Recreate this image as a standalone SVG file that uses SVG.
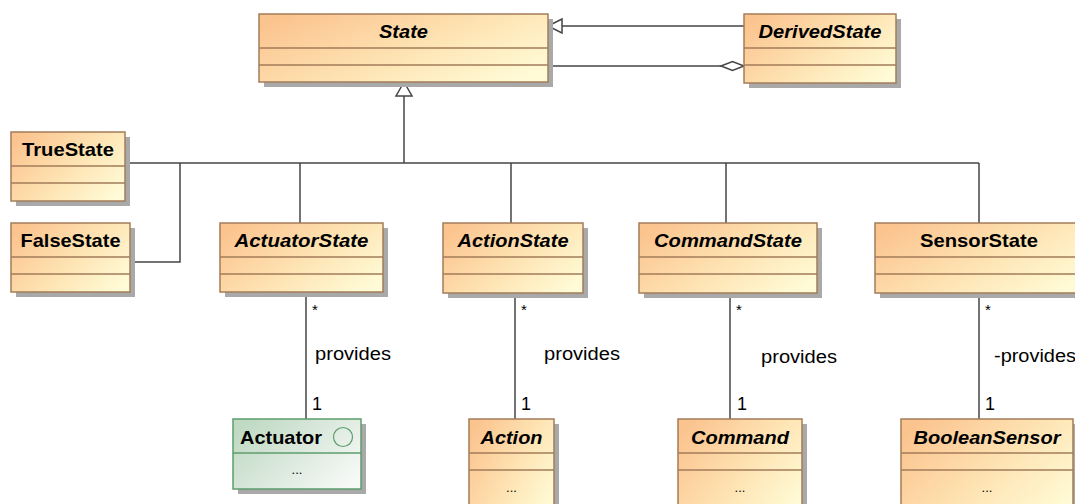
<svg xmlns="http://www.w3.org/2000/svg" width="1075" height="504" viewBox="0 0 1075 504">
<defs>
  <linearGradient id="og" x1="0" y1="0.2" x2="1" y2="0.8">
    <stop offset="0" stop-color="#fbc48f"/>
    <stop offset="0.55" stop-color="#fee4b4"/>
    <stop offset="1" stop-color="#fffbd6"/>
  </linearGradient>
  <linearGradient id="gg" x1="0" y1="0.2" x2="1" y2="0.8">
    <stop offset="0" stop-color="#bfd9c3"/>
    <stop offset="1" stop-color="#f7f9f7"/>
  </linearGradient>
</defs>
<style>
  .sh { fill: #a9a9a9; }
  .box { fill: url(#og); stroke: #a27c59; stroke-width: 1.5; }
  .div { stroke: #a27c59; stroke-width: 1.5; fill: none; }
  .gbox { fill: url(#gg); stroke: #5e9d6c; stroke-width: 1.5; }
  .gdiv { stroke: #5e9d6c; stroke-width: 1.5; fill: none; }
  .nm { font-family: "Liberation Sans", Arial, sans-serif; font-size: 18.5px; font-weight: bold; fill: #000; }
  .it { font-style: italic; }
  .lb { font-family: "Liberation Sans", Arial, sans-serif; font-size: 18px; fill: #000; }
  .mu { font-family: "Liberation Sans", Arial, sans-serif; font-size: 15px; fill: #000; }
  .dots { font-family: "Liberation Sans", Arial, sans-serif; font-size: 13px; fill: #000; }
  .ln { stroke: #444; stroke-width: 1.5; fill: none; }
  .hd { stroke: #444; stroke-width: 1.5; fill: #fff; }
</style>

<g id="connectors">
  <path class="ln" d="M404,163 V96"/>
  <polygon class="hd" points="404,82 396,96 412,96"/>
  <path class="ln" d="M125,163 H979"/>
  <path class="ln" d="M300,163 V223"/>
  <path class="ln" d="M511,163 V223"/>
  <path class="ln" d="M726,163 V223"/>
  <path class="ln" d="M979,163 V223"/>
  <path class="ln" d="M130,262 H180 V163"/>
  <path class="ln" d="M744,26 H562"/>
  <polygon class="hd" points="548,26 562,19 562,33"/>
  <path class="ln" d="M548,66 H721"/>
  <polygon class="hd" points="721,66 732.5,61.5 744,66 732.5,70.5"/>
  <path class="ln" d="M306,292 V419"/>
  <path class="ln" d="M515,292 V419"/>
  <path class="ln" d="M730,292 V419"/>
  <path class="ln" d="M979,292 V419"/>
  <text class="mu" x="312" y="315">*</text>
  <text class="mu" x="521" y="315">*</text>
  <text class="mu" x="736" y="315">*</text>
  <text class="mu" x="985" y="315">*</text>
  <text class="lb" x="315" y="360" textLength="76" lengthAdjust="spacingAndGlyphs">provides</text>
  <text class="lb" x="544" y="360" textLength="76" lengthAdjust="spacingAndGlyphs">provides</text>
  <text class="lb" x="761" y="363" textLength="76" lengthAdjust="spacingAndGlyphs">provides</text>
  <text class="lb" x="994" y="362" textLength="82" lengthAdjust="spacingAndGlyphs">-provides</text>
  <text class="lb" x="312" y="410">1</text>
  <text class="lb" x="521" y="410">1</text>
  <text class="lb" x="737" y="410">1</text>
  <text class="lb" x="985" y="410">1</text>
</g>

<g id="State">
  <rect class="sh" x="264" y="19" width="289" height="68"/>
  <rect class="box" x="259" y="14" width="289" height="68"/>
  <path class="div" d="M259,48 H548 M259,65 H548"/>
  <text class="nm it" x="403.5" y="38" text-anchor="middle" textLength="49" lengthAdjust="spacingAndGlyphs">State</text>
</g>

<g id="DerivedState">
  <rect class="sh" x="749" y="19" width="152" height="69"/>
  <rect class="box" x="744" y="14" width="152" height="69"/>
  <path class="div" d="M744,48 H896 M744,65 H896"/>
  <text class="nm it" x="820" y="38" text-anchor="middle" textLength="123" lengthAdjust="spacingAndGlyphs">DerivedState</text>
</g>

<g id="TrueState">
  <rect class="sh" x="16" y="137" width="114" height="69"/>
  <rect class="box" x="11" y="132" width="114" height="69"/>
  <path class="div" d="M11,166 H125 M11,183 H125"/>
  <text class="nm" x="68" y="156" text-anchor="middle" textLength="92" lengthAdjust="spacingAndGlyphs">TrueState</text>
</g>

<g id="FalseState">
  <rect class="sh" x="16" y="228" width="119" height="69"/>
  <rect class="box" x="11" y="223" width="119" height="69"/>
  <path class="div" d="M11,257 H130 M11,274 H130"/>
  <text class="nm" x="70.5" y="247" text-anchor="middle" textLength="100" lengthAdjust="spacingAndGlyphs">FalseState</text>
</g>

<g id="ActuatorState">
  <rect class="sh" x="225" y="228" width="163" height="69"/>
  <rect class="box" x="220" y="223" width="163" height="69"/>
  <path class="div" d="M220,257 H383 M220,274 H383"/>
  <text class="nm it" x="301.5" y="247" text-anchor="middle" textLength="134" lengthAdjust="spacingAndGlyphs">ActuatorState</text>
</g>

<g id="ActionState">
  <rect class="sh" x="448" y="228" width="140" height="70"/>
  <rect class="box" x="443" y="223" width="140" height="70"/>
  <path class="div" d="M443,257 H583 M443,274 H583"/>
  <text class="nm it" x="513" y="247" text-anchor="middle" textLength="111" lengthAdjust="spacingAndGlyphs">ActionState</text>
</g>

<g id="CommandState">
  <rect class="sh" x="644" y="228" width="178" height="70"/>
  <rect class="box" x="639" y="223" width="178" height="70"/>
  <path class="div" d="M639,257 H817 M639,274 H817"/>
  <text class="nm it" x="728" y="247" text-anchor="middle" textLength="148" lengthAdjust="spacingAndGlyphs">CommandState</text>
</g>

<g id="SensorState">
  <rect class="sh" x="880" y="228" width="208" height="70"/>
  <rect class="box" x="875" y="223" width="208" height="70"/>
  <path class="div" d="M875,257 H1083 M875,274 H1083"/>
  <text class="nm" x="979" y="247" text-anchor="middle" textLength="118" lengthAdjust="spacingAndGlyphs">SensorState</text>
</g>

<g id="Actuator">
  <rect class="sh" x="238" y="424" width="128" height="70"/>
  <rect class="gbox" x="233" y="419" width="128" height="70"/>
  <path class="gdiv" d="M233,453 H361"/>
  <circle cx="343" cy="437" r="9.5" fill="none" stroke="#5e9d6c" stroke-width="1.2"/>
  <text class="nm" x="240" y="444" textLength="82" lengthAdjust="spacingAndGlyphs">Actuator</text>
  <text class="dots" x="297" y="474" text-anchor="middle">...</text>
</g>

<g id="Action">
  <rect class="sh" x="474" y="424" width="85" height="100"/>
  <rect class="box" x="469" y="419" width="85" height="100"/>
  <path class="div" d="M469,453 H554 M469,470 H554"/>
  <text class="nm it" x="511.5" y="444" text-anchor="middle" textLength="62" lengthAdjust="spacingAndGlyphs">Action</text>
  <text class="dots" x="511.5" y="492" text-anchor="middle">...</text>
</g>

<g id="Command">
  <rect class="sh" x="683" y="424" width="124" height="100"/>
  <rect class="box" x="678" y="419" width="124" height="100"/>
  <path class="div" d="M678,453 H802 M678,470 H802"/>
  <text class="nm it" x="740" y="444" text-anchor="middle" textLength="98" lengthAdjust="spacingAndGlyphs">Command</text>
  <text class="dots" x="740" y="492" text-anchor="middle">...</text>
</g>

<g id="BooleanSensor">
  <rect class="sh" x="906" y="424" width="172" height="100"/>
  <rect class="box" x="901" y="419" width="172" height="100"/>
  <path class="div" d="M901,453 H1073 M901,470 H1073"/>
  <text class="nm it" x="987" y="444" text-anchor="middle" textLength="147" lengthAdjust="spacingAndGlyphs">BooleanSensor</text>
  <text class="dots" x="987" y="492" text-anchor="middle">...</text>
</g>
</svg>
